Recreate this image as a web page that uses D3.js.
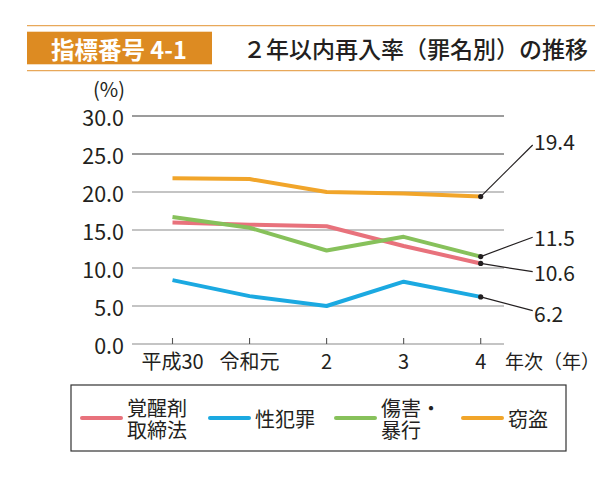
<!DOCTYPE html>
<html>
<head>
<meta charset="utf-8">
<script src="https://cdn.jsdelivr.net/npm/d3@7"></script>
<style>
  body { margin: 0; background: #fff; }
  text { font-family: "Noto Sans CJK JP", "Noto Sans", sans-serif; fill: #231f20; }
</style>
</head>
<body>
<div id="container"></div>
<script>
// data
const years = ['平成30', '令和元', '2', '3', '4']
const stimulants = [16.0, 15.7, 15.5, 12.9, 10.6]
const sexCrime = [8.4, 6.3, 5.0, 8.2, 6.2]
const assault = [16.7, 15.3, 12.3, 14.1, 11.5]
const theft = [21.8, 21.7, 20.0, 19.8, 19.4]
const yTicks = [0, 5, 10, 15, 20, 25, 30]

const series = [
  { name: ['覚醒剤', '取締法'], values: stimulants, color: '#e8727c' },
  { name: ['性犯罪'], values: sexCrime, color: '#1ba9e1' },
  { name: ['傷害・', '暴行'], values: assault, color: '#87c15b' },
  { name: ['窃盗'], values: theft, color: '#f1a52a' }
]

const W = 607, H = 481

const svg = d3.select('#container').append('svg')
  .attr('width', W)
  .attr('height', H)

// header
const orange = '#dd8b22'
svg.append('line').attr('x1', 27).attr('x2', 595).attr('y1', 25.7).attr('y2', 25.7)
  .attr('stroke', '#e8a85a').attr('stroke-width', 1.3)
svg.append('line').attr('x1', 27).attr('x2', 595).attr('y1', 70.7).attr('y2', 70.7)
  .attr('stroke', '#e8a85a').attr('stroke-width', 1.3)
svg.append('rect').attr('x', 27).attr('y', 31.7).attr('width', 185).attr('height', 32.6)
  .attr('fill', orange)
svg.append('text').attr('x', 51).attr('y', 49)
  .attr('dominant-baseline', 'central')
  .style('font-size', '23.5px').style('font-weight', 'bold').style('fill', '#fff')
  .text('指標番号 4-1')
svg.append('text').attr('x', 243).attr('y', 48)
  .attr('dominant-baseline', 'central')
  .style('font-size', '23px').style('font-weight', '500')
  .text('２年以内再入率（罪名別）の推移')

// scales
const x = d3.scalePoint().domain(years).range([172.5, 480.7])
const y = d3.scaleLinear().domain([0, 30]).range([344, 116])
const left = 132, right = 504

// grid
svg.append('g').selectAll('line')
  .data(yTicks)
  .enter()
  .append('line')
  .attr('x1', left).attr('x2', right)
  .attr('y1', d => y(d)).attr('y2', d => y(d))
  .attr('stroke', d => d >= 25 ? '#3a3a3a' : '#8a8a8a')
  .attr('stroke-width', 1.1)

svg.append('g').selectAll('text')
  .data(yTicks)
  .enter()
  .append('text')
  .attr('x', 124)
  .attr('y', d => y(d))
  .attr('text-anchor', 'end')
  .attr('dominant-baseline', 'central')
  .style('font-size', '21.5px')
  .text(d => d3.format('.1f')(d))

svg.append('text').attr('x', 125).attr('y', 88)
  .attr('text-anchor', 'end').attr('dominant-baseline', 'central')
  .style('font-size', '20px')
  .text('(%)')

// x axis ticks
svg.append('g').selectAll('line')
  .data(years)
  .enter()
  .append('line')
  .attr('x1', d => x(d)).attr('x2', d => x(d))
  .attr('y1', y(0) - 6).attr('y2', y(0))
  .attr('stroke', '#555').attr('stroke-width', 1.1)

svg.append('g').selectAll('text')
  .data(years)
  .enter()
  .append('text')
  .attr('x', d => x(d))
  .attr('y', 360)
  .attr('text-anchor', 'middle')
  .attr('dominant-baseline', 'central')
  .style('font-size', '20px')
  .text(d => d)

svg.append('text').attr('x', 505).attr('y', 360.5)
  .attr('dominant-baseline', 'central')
  .style('font-size', '19px')
  .text('年次（年）')

// lines
const line = d3.line()
  .x((d, i) => x(years[i]))
  .y(d => y(d))

svg.append('g').selectAll('path')
  .data(series)
  .enter()
  .append('path')
  .attr('d', d => line(d.values))
  .attr('fill', 'none')
  .attr('stroke', d => d.color)
  .attr('stroke-width', 4)
  .attr('stroke-linejoin', 'round')

// end labels with leader lines
const labelY = [271.7, 313, 237.3, 140.7]
const leadY = [271.7, 310.7, 237.3, 145]
const last = years[years.length - 1]

series.forEach((s, i) => {
  const v = s.values[s.values.length - 1]
  svg.append('line')
    .attr('x1', x(last)).attr('y1', y(v))
    .attr('x2', 532.7).attr('y2', leadY[i])
    .attr('stroke', '#231f20').attr('stroke-width', 1.2)
  svg.append('circle')
    .attr('cx', x(last)).attr('cy', y(v)).attr('r', 2.6)
    .attr('fill', '#231f20')
  svg.append('text')
    .attr('x', 534).attr('y', labelY[i])
    .attr('dominant-baseline', 'central')
    .style('font-size', '21px')
    .text(d3.format('.1f')(v))
})

// legend
svg.append('rect').attr('x', 71).attr('y', 385).attr('width', 495).attr('height', 66)
  .attr('fill', 'none').attr('stroke', '#333').attr('stroke-width', 1.2)

const legendX = [82, 210, 336, 463]
series.forEach((s, i) => {
  const g = svg.append('g').attr('transform', `translate(${legendX[i]},418)`)
  g.append('line').attr('x1', 0).attr('x2', 39).attr('y1', 0).attr('y2', 0)
    .attr('stroke', s.color).attr('stroke-width', 4).attr('stroke-linecap', 'round')
  const n = s.name.length
  const t = g.append('text')
    .attr('dominant-baseline', 'central')
    .style('font-size', '20px')
  s.name.forEach((row, j) => {
    t.append('tspan')
      .attr('x', 45)
      .attr('y', (j - (n - 1) / 2) * 21.5)
      .attr('dominant-baseline', 'central')
      .text(row)
  })
})
</script>
</body>
</html>
